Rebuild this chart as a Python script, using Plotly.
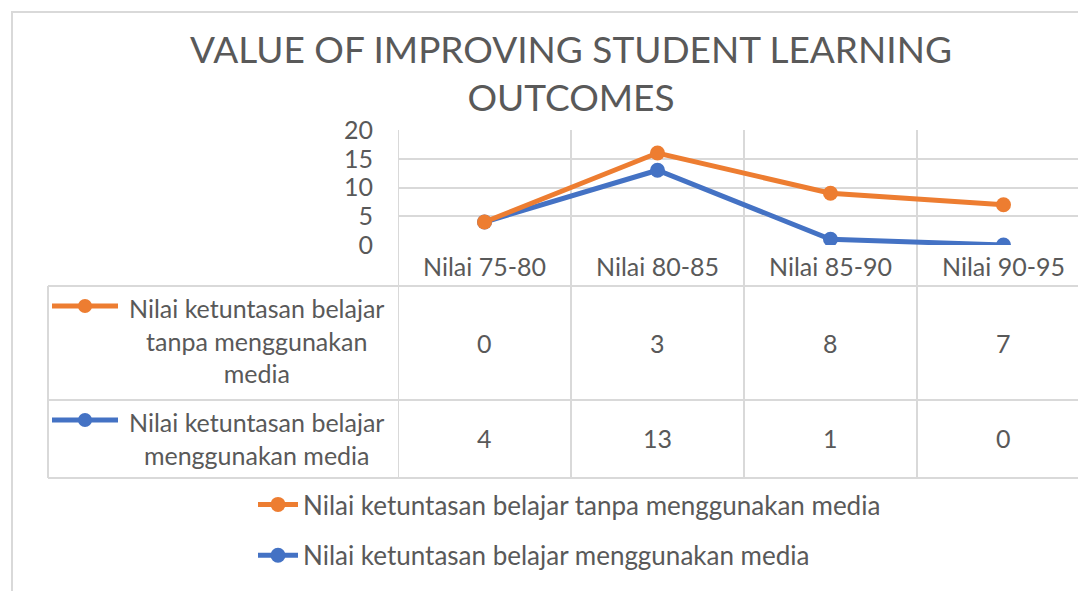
import plotly.graph_objects as go

# ---------------- data ----------------
categories = ["Nilai 75-80", "Nilai 80-85", "Nilai 85-90", "Nilai 90-95"]
series_names = [
    "Nilai ketuntasan belajar tanpa menggunakan media",
    "Nilai ketuntasan belajar menggunakan media",
]
tanpa_media = [0, 3, 8, 7]
dengan_media = [4, 13, 1, 0]
table_labels = [
    "Nilai ketuntasan belajar<br>tanpa menggunakan<br>media",
    "Nilai ketuntasan belajar<br>menggunakan media",
]
y_ticks = [0, 5, 10, 15, 20]
title_text = "VALUE OF IMPROVING STUDENT LEARNING<br>OUTCOMES"

# ---------------- style ----------------
ORANGE = "#ED7D31"
BLUE = "#4472C4"
GRAY_TXT = "#595959"
GRID = "#d9d9d9"
FONT = "Lato"
FS = 25

OFF = 8  # page body margin
W, H = 1086 - OFF, 591 - OFF
PL, PT, PB = 398, 130, 245
L = PL - OFF
T = PT - OFF
B = H - (PB - OFF)
R = 0
PW = W - L - R
PH = H - T - B


def px(x):
    return (x - OFF - L) / PW


def py(y):
    return (H - B - (y - OFF)) / PH


def cy(y):
    return 1 - (y - OFF) / H


fig = go.Figure()
# stacked line chart: blue at bottom, orange stacked on top
fig.add_trace(go.Scatter(
    x=categories, y=dengan_media, name=series_names[1], stackgroup="s", fill="none",
    mode="lines+markers", line=dict(color=BLUE, width=5), marker=dict(size=15, color=BLUE),
    legendrank=2, legendgroup="b",
))
fig.add_trace(go.Scatter(
    x=categories, y=tanpa_media, name=series_names[0], stackgroup="s", fill="none",
    mode="lines+markers", line=dict(color=ORANGE, width=5), marker=dict(size=15, color=ORANGE),
    legendrank=1, legendgroup="a",
))

shapes = []
shapes.append(dict(type="rect", xref="paper", yref="paper", x0=px(12), x1=px(1200), y0=py(640), y1=py(12),
                   line=dict(color=GRID, width=2), layer="below"))
for i in range(len(categories)):
    shapes.append(dict(type="line", xref="x", yref="paper", x0=i - 0.5, x1=i - 0.5, y0=1, y1=py(478),
                       line=dict(color=GRID, width=2), layer="below"))
shapes.append(dict(type="line", xref="paper", yref="paper", x0=px(48), x1=px(48), y0=py(286), y1=py(478),
                   line=dict(color=GRID, width=2), layer="below"))
for yy in (286, 400, 478):
    shapes.append(dict(type="line", xref="paper", yref="paper", x0=px(48), x1=1.01, y0=py(yy), y1=py(yy),
                       line=dict(color=GRID, width=2), layer="below"))

annotations = []
row_centers = [343, 438]
row_key_y = [306, 420]
row_label_y = [340, 438]
colors = [ORANGE, BLUE]
row_values = [tanpa_media, dengan_media]
for r in range(2):
    ky = row_key_y[r]
    shapes.append(dict(type="line", xref="paper", yref="paper", x0=px(52), x1=px(118), y0=py(ky), y1=py(ky),
                       line=dict(color=colors[r], width=5)))
    shapes.append(dict(type="circle", xref="paper", yref="paper", x0=px(78), x1=px(92), y0=py(ky + 7),
                       y1=py(ky - 7), fillcolor=colors[r], line=dict(color=colors[r], width=0)))
    annotations.append(dict(text=table_labels[r], xref="paper", yref="paper", x=px(256), y=py(row_label_y[r]),
                            xanchor="center", yanchor="middle", align="center", showarrow=False,
                            font=dict(family=FONT, size=FS, color=GRAY_TXT)))
    for i, v in enumerate(row_values[r]):
        annotations.append(dict(text=str(v), xref="x", yref="paper", x=categories[i], y=py(row_centers[r]),
                                xanchor="center", yanchor="middle", showarrow=False,
                                font=dict(family=FONT, size=FS, color=GRAY_TXT)))

fig.update_layout(
    width=W, height=H,
    margin=dict(l=L, r=R, t=T, b=B, autoexpand=False),
    paper_bgcolor="white", plot_bgcolor="white",
    title=dict(text=title_text, xref="paper", x=px(571), xanchor="center", yref="container",
               y=cy(63), yanchor="middle", font=dict(family=FONT, size=37, color=GRAY_TXT)),
    xaxis=dict(type="category", range=[-0.5, -0.5 + PW / 173], showgrid=False, zeroline=False,
               showline=False, ticks="", tickfont=dict(family=FONT, size=FS, color=GRAY_TXT),
               ticklabelstandoff=5, fixedrange=True),
    yaxis=dict(range=[0, 20], tickvals=y_ticks, showgrid=True, gridcolor=GRID, gridwidth=2,
               zeroline=False, showline=False, ticks="",
               tickfont=dict(family=FONT, size=FS, color=GRAY_TXT), ticklabelstandoff=24, fixedrange=True),
    showlegend=True,
    legend=dict(x=px(253), xref="paper", y=cy(481), yref="container", xanchor="left", yanchor="top",
                orientation="v", font=dict(family=FONT, size=26, color=GRAY_TXT), tracegroupgap=14,
                itemwidth=40, bgcolor="rgba(0,0,0,0)"),
    shapes=shapes, annotations=annotations,
)

fig.write_html("out.html")
